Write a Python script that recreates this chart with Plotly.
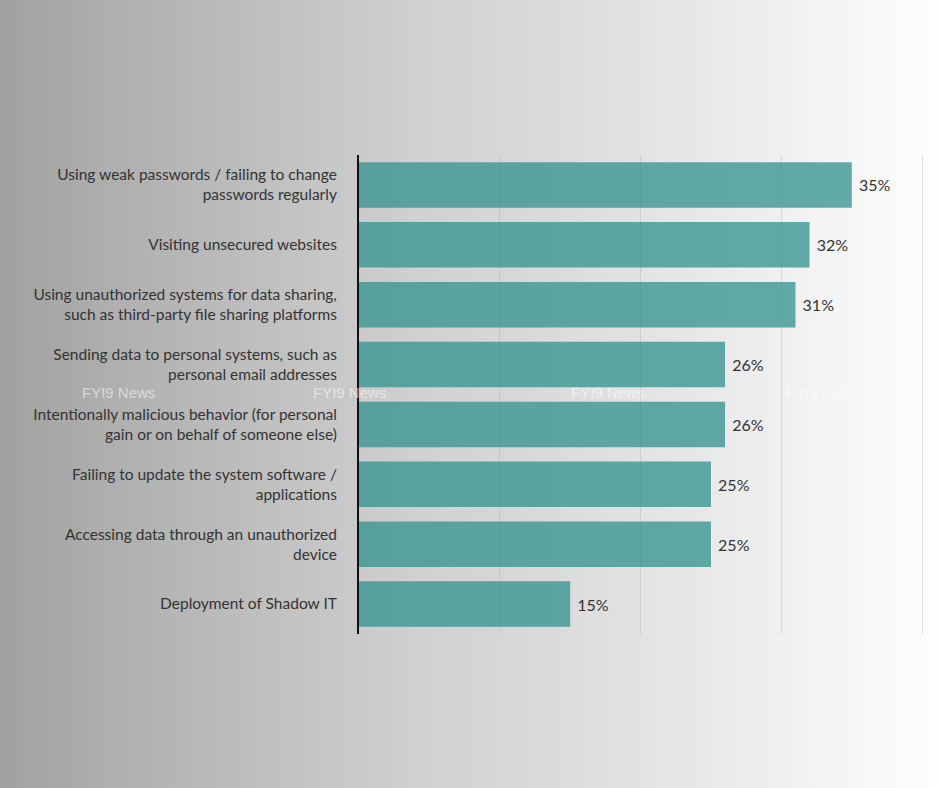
import base64
import plotly.graph_objects as go

categories = [
    "Using weak passwords / failing to change<br>passwords regularly",
    "Visiting unsecured websites",
    "Using unauthorized systems for data sharing,<br>such as third-party file sharing platforms",
    "Sending data to personal systems, such as<br>personal email addresses",
    "Intentionally malicious behavior (for personal<br>gain or on behalf of someone else)",
    "Failing to update the system software /<br>applications",
    "Accessing data through an unauthorized<br>device",
    "Deployment of Shadow IT",
]
values = [35, 32, 31, 26, 26, 25, 25, 15]
watermark = "FYI9 News"

W, H = 940, 788
ML, MR, MT, MB = 359, 15, 155, 154
pw, ph = W - ML - MR, H - MT - MB

svg = (
    '<svg xmlns="http://www.w3.org/2000/svg" width="940" height="788">'
    '<defs><linearGradient id="g" x1="0" y1="0" x2="1" y2="0">'
    '<stop offset="0" stop-color="#a1a1a1"/>'
    '<stop offset="0.13" stop-color="#b0b0b0"/>'
    '<stop offset="0.45" stop-color="#d1d1d1"/>'
    '<stop offset="0.58" stop-color="#dadada"/>'
    '<stop offset="0.87" stop-color="#f3f3f3"/>'
    '<stop offset="1" stop-color="#fefefe"/>'
    '</linearGradient></defs>'
    '<rect width="940" height="788" fill="url(#g)"/></svg>'
)
src = "data:image/svg+xml;base64," + base64.b64encode(svg.encode()).decode()

fig = go.Figure()
fig.add_trace(go.Bar(
    x=values,
    y=categories,
    orientation="h",
    texttemplate="\u00a0%{x}%",
    textposition="outside",
    textfont=dict(family="Lato", size=16, color="#333333"),
    cliponaxis=False,
    marker=dict(color="rgba(50,146,143,0.76)", line=dict(width=0)),
    width=0.76,
    hoverinfo="skip",
))

fig.add_layout_image(dict(
    source=src, xref="paper", yref="paper",
    x=-ML / pw, y=1 + MT / ph, sizex=W / pw, sizey=H / ph,
    xanchor="left", yanchor="top", sizing="stretch", layer="below",
))

for px in [118, 349, 607, 822]:
    fig.add_annotation(
        text=watermark, xref="paper", yref="paper",
        x=(px - ML) / pw, y=1 - (392 - MT) / ph,
        showarrow=False, xanchor="center", yanchor="middle",
        font=dict(family="Liberation Sans", size=15, color="rgba(255,255,255,0.55)"),
    )

fig.update_layout(
    width=W, height=H,
    margin=dict(l=ML, r=MR, t=MT, b=MB),
    paper_bgcolor="white",
    plot_bgcolor="rgba(0,0,0,0)",
    showlegend=False,
    font=dict(family="Lato", size=15.5, color="#333333"),
    xaxis=dict(
        range=[0, 40.2], tickvals=[10, 20, 30, 40], showticklabels=False,
        showgrid=True, gridcolor="rgba(150,150,150,0.28)", gridwidth=1,
        zeroline=False, showline=False, fixedrange=True,
    ),
    yaxis=dict(
        autorange="reversed", showline=True, linecolor="#111111", linewidth=2,
        ticks="outside", ticklen=17, tickcolor="rgba(0,0,0,0)",
        tickfont=dict(family="Lato", size=15.5, color="#333333"),
        showgrid=False, zeroline=False, fixedrange=True,
    ),
    bargap=0.24,
)

fig.write_html(
    "out.html",
    config={"displayModeBar": False, "staticPlot": True},
    post_script="document.body.style.margin='0';document.body.style.padding='0';",
)
